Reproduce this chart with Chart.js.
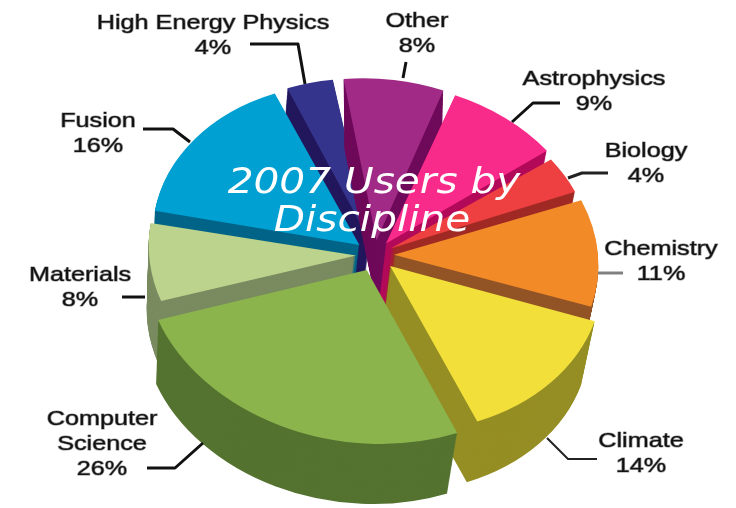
<!DOCTYPE html>
<html>
<head>
<meta charset="utf-8">
<title>2007 Users by Discipline</title>
<script src="https://cdn.jsdelivr.net/npm/chart.js@4"></script>
<style>
html, body { margin: 0; padding: 0; background: #fff; }
#wrap { width: 736px; height: 508px; }
</style>
</head>
<body>
<div id="wrap"><canvas id="pie"></canvas></div>
<script>
//chart data, clockwise from the top left
const categories = ['High Energy Physics', 'Other', 'Astrophysics', 'Biology', 'Chemistry', 'Climate', 'Computer Science', 'Materials', 'Fusion'];
const shares = [4, 8, 9, 4, 11, 14, 26, 8, 16];
const titleLines = ['2007 Users by', 'Discipline'];

//slice colours: top face and side wall
const faceColors = ['#35348c', '#a02a85', '#f92b8a', '#ee4040', '#f28a28', '#f2df3a', '#8bb54c', '#bbd38c', '#00a0d2'];
const wallColors = ['#22175c', '#6f0a5a', '#b30a5a', '#a02a25', '#925426', '#958e24', '#557330', '#7a8b60', '#006488'];

//fake 3d settings
const centerX = 375, centerY = 255;
const squash = 0.78;
const shear = 0.05;
const sliceDepth = [65, 65, 85, 65, 65, 65, 65, 65, 65];
const lean = 0.12; //walls drift left as they go down
const shrink = 0.0004; //and get a little smaller
const drawOrder = [0, 1, 2, 8, 3, 4, 7, 5, 6]; //back to front
const sliceScale = [0.93, 0.95, 0.95, 0.91, 0.95, 1.0, 1.07, 0.95, 0.98];

//label boxes and leader lines
const labelLines = [['High Energy Physics', '4%'], ['Other', '8%'], ['Astrophysics', '9%'], ['Biology', '4%'], ['Chemistry', '11%'], ['Climate', '14%'], ['Computer', 'Science', '26%'], ['Materials', '8%'], ['Fusion', '16%']];
const labelAt = [[213, 36], [417, 34], [594, 92], [646, 164], [661, 262], [641, 454], [102, 444], [80, 288], [98, 134]];
const leaders = [
	[[250, 44], [298, 44], [305, 84]],
	[[406, 62], [403, 78]],
	[[560, 103], [533, 103], [512, 122]],
	[[608, 173], [582, 173], [568, 178]],
	[[623, 273], [598, 273]],
	[[597, 459], [568, 459], [547, 438]],
	[[147, 468], [175, 468], [203, 443]],
	[[122, 297], [145, 297]],
	[[143, 129], [173, 129], [190, 142]]
];
const leaderColors = ['#111', '#111', '#111', '#222', '#808080', '#222', '#111', '#111', '#111'];
const leaderWidths = [3, 3, 3, 3, 3, 2, 3, 3, 3];

//the original is stretched sideways, text included
const labelStretch = 1.2;
const titleStretch = 1.16;

function stretchedText(c, text, x, y, stretch, outline) {
	c.save();
	c.translate(x, y);
	c.scale(stretch, 1);
	if (outline) c.strokeText(text, 0, 0);
	c.fillText(text, 0, 0);
	c.restore();
}

//draws the slices as extruded, squashed wedges instead of the flat ones
const pie3d = {
	id: 'pie3d',
	beforeDatasetDraw(chart, args) {
		const c = chart.ctx;
		const arcs = args.meta.data;
		drawOrder.forEach(function (i) {
			const arc = arcs[i];
			const faceColor = arc.options.backgroundColor;
			const place = function (dy) {
				const s = sliceScale[i] * (1 - dy * shrink);
				c.save();
				c.translate(centerX - dy * (i === 1 ? 0 : lean), centerY + dy);
				c.transform(1, shear, 0, 1, 0, 0);
				c.scale(s, squash * s);
				c.translate(-arc.x, -arc.y);
			};
			arc.options.backgroundColor = wallColors[i];
			arc.options.borderColor = wallColors[i];
			for (let dy = sliceDepth[i]; dy > 0; dy--) {
				place(dy);
				arc.draw(c);
				c.restore();
			}
			arc.options.backgroundColor = faceColor;
			arc.options.borderColor = faceColor;
			place(0);
			arc.draw(c);
			c.restore();
		});
		return false;
	},
	afterDatasetsDraw(chart) {
		const c = chart.ctx;
		c.save();

		//leader lines
		c.lineJoin = 'round';
		leaders.forEach(function (pts, i) {
			c.strokeStyle = leaderColors[i];
			c.lineWidth = leaderWidths[i];
			c.beginPath();
			pts.forEach(function (p, n) {
				if (n === 0) c.moveTo(p[0], p[1]);
				else c.lineTo(p[0], p[1]);
			});
			c.stroke();
		});

		//labels
		c.textAlign = 'center';
		c.textBaseline = 'middle';
		c.font = '21px "Liberation Sans"';
		c.fillStyle = '#111';
		c.strokeStyle = 'rgba(70,70,70,0.6)';
		c.lineWidth = 1.2;
		labelLines.forEach(function (lines, i) {
			lines.forEach(function (line, n) {
				const y = labelAt[i][1] + (n - (lines.length - 1) / 2) * 25;
				stretchedText(c, line, labelAt[i][0], y, labelStretch, true);
			});
		});

		//title sits on top of the pie
		c.font = 'italic 35px "DejaVu Sans"';
		c.fillStyle = '#fff';
		stretchedText(c, titleLines[0], 374, 184, titleStretch, false);
		stretchedText(c, titleLines[1], 372, 222, titleStretch, false);
		c.restore();
	}
};

const ctx = document.getElementById('pie').getContext('2d');
const chart = new Chart(ctx, {
	type: 'pie',
	data: {
		labels: categories,
		datasets: [{
			data: shares,
			backgroundColor: faceColors,
			borderWidth: 0,
			offset: 80,
			radius: 208
		}]
	},
	options: {
		responsive: true,
		maintainAspectRatio: false,
		animation: false,
		rotation: -24,
		layout: { padding: 0 },
		plugins: {
			legend: { display: false },
			tooltip: { enabled: false }
		}
	},
	plugins: [pie3d]
});
</script>
</body>
</html>
